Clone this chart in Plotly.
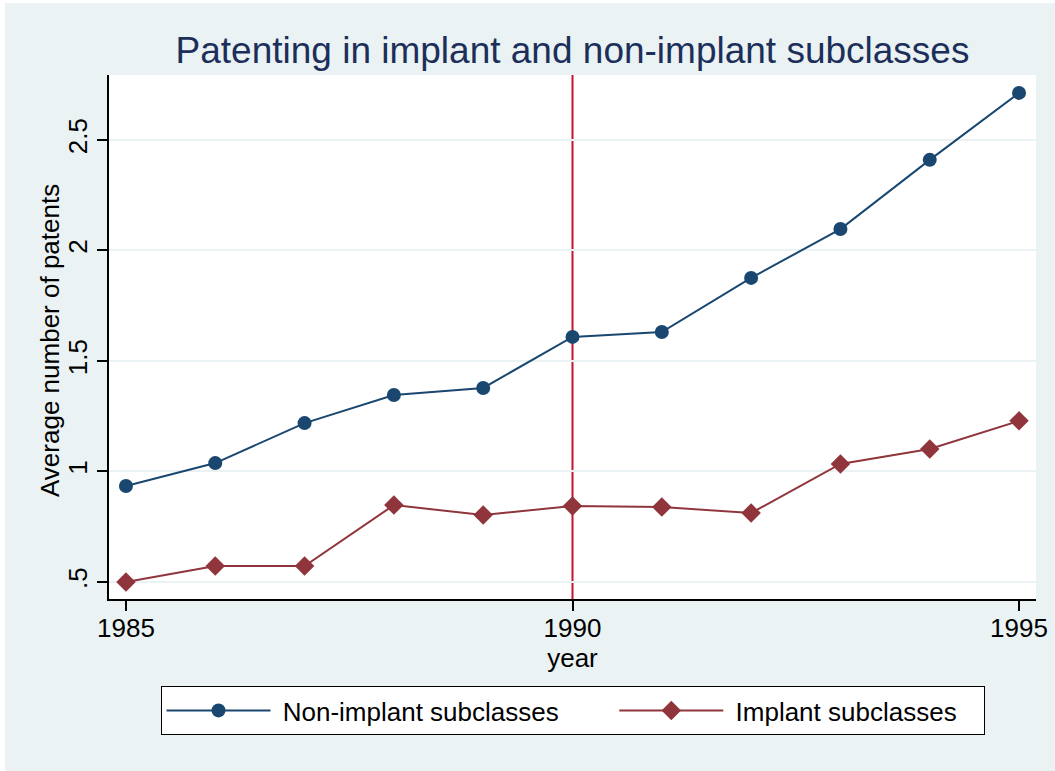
import plotly.graph_objects as go

years = [1985, 1986, 1987, 1988, 1989, 1990, 1991, 1992, 1993, 1994, 1995]
non_implant = [0.934, 1.038, 1.219, 1.346, 1.378, 1.609, 1.631, 1.876, 2.097, 2.410, 2.713]
implant = [0.500, 0.572, 0.572, 0.848, 0.803, 0.844, 0.839, 0.812, 1.034, 1.102, 1.229]
series_names = ["Non-implant subclasses", "Implant subclasses"]
x_tick_vals = [1985, 1990, 1995]
y_tick_vals = [0.5, 1, 1.5, 2, 2.5]
y_tick_text = [".5", "1", "1.5", "2", "2.5"]
policy_year = 1990

NAVY = "#1A476F"
MAROON = "#90353B"
BG = "#EAF2F3"
FONT = "Liberation Sans, Arial, Helvetica, sans-serif"
NB = "\u00a0"

W, H = 1050, 768
ML, MR, MT, MB = 104, 19, 72, 172
plot_w = W - ML - MR
plot_h = H - MT - MB

fig = go.Figure()
fig.add_trace(go.Scatter(
    x=years, y=non_implant, mode="lines+markers",
    name=NB + series_names[0] + NB * 7,
    line=dict(color=NAVY, width=2), marker=dict(symbol="circle", size=14, color=NAVY),
))
fig.add_trace(go.Scatter(
    x=years, y=implant, mode="lines+markers",
    name=NB + series_names[1] + NB * 3,
    line=dict(color=MAROON, width=2), marker=dict(symbol="diamond", size=15, color=MAROON),
))

fig.add_shape(type="line", xref="x", yref="paper", x0=policy_year, x1=policy_year,
              y0=0, y1=1, line=dict(color="#C4122F", width=2), layer="below")

fig.add_annotation(text="Average number of patents", textangle=-90,
                   xref="paper", yref="paper", x=-(109 - 50) / plot_w, y=(599 - 341) / plot_h,
                   xanchor="center", yanchor="middle", showarrow=False,
                   font=dict(size=26, color="black"))

fig.update_layout(
    width=W, height=H,
    paper_bgcolor=BG, plot_bgcolor="white",
    margin=dict(l=ML, r=MR, t=MT, b=MB, autoexpand=False),
    font=dict(family=FONT, size=26, color="black"),
    title=dict(text="Patenting in implant and non-implant subclasses",
               font=dict(size=37, color="#1C2F5B"),
               x=0.5, xref="paper", xanchor="center",
               y=1 - 47 / H, yref="container", yanchor="middle"),
    showlegend=True,
    legend=dict(orientation="h", x=0.5, xanchor="center",
                y=-(686 - 599) / plot_h, yanchor="top",
                bgcolor="white", bordercolor="black", borderwidth=1,
                font=dict(size=26), itemwidth=104, traceorder="normal"),
)
fig.update_xaxes(range=[1984.81, 1995.19], tickvals=x_tick_vals,
                 ticks="outside", ticklen=10, tickcolor="black", tickwidth=1.5,
                 ticklabelstandoff=-5,
                 showline=True, linecolor="black", linewidth=1.5,
                 showgrid=False, zeroline=False,
                 title=dict(text="year", standoff=1, font=dict(size=26)))
fig.update_yaxes(range=[0.423, 2.794], tickvals=y_tick_vals, ticktext=y_tick_text,
                 tickangle=-90,
                 ticks="outside", ticklen=10, tickcolor="black", tickwidth=1.5,
                 showline=True, linecolor="black", linewidth=1.5,
                 showgrid=True, gridcolor=BG, gridwidth=2, zeroline=False)

fig.write_html("out.html",
               post_script="document.body.style.margin='3px 0 0 5px';"
                           "document.body.style.overflow='hidden';")
